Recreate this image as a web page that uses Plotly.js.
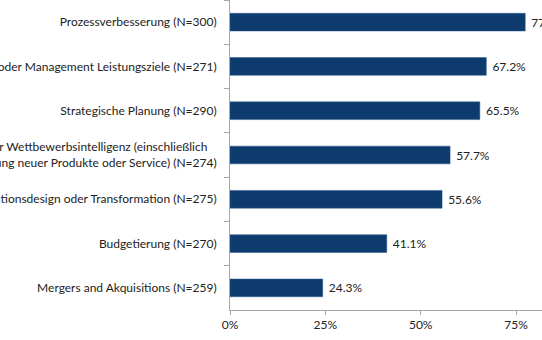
<!DOCTYPE html>
<html>
<head>
<meta charset="utf-8">
<script src="https://cdn.plot.ly/plotly-3.0.1.min.js"></script>
<style>html,body{margin:0;padding:0;background:#fff;}#chart{width:542px;height:340px;}</style>
</head>
<body>
<div id="chart"></div>
<script>
var categories = [
  "Prozessverbesserung (N=300)",
  "Unternehmens- und/oder Management Leistungsziele (N=271)",
  "Strategische Planung (N=290)",
  "Marktforschung oder Wettbewerbsintelligenz (einschließlich\u00a0\u00a0\u00a0<br>Entwicklung neuer Produkte oder Service) (N=274)",
  "Organisationsdesign oder Transformation (N=275)",
  "Budgetierung (N=270)",
  "Mergers and Akquisitions (N=259)"
];
var values = [77.4, 67.2, 65.5, 57.7, 55.6, 41.1, 24.3];
var xTickVals = [0, 25, 50, 75];
var xTickText = ["0%", "25%", "50%", "75%"];

var labels = values.map(function(v){ return "\u00a0" + v.toFixed(1) + "%"; });

var trace = {
  type: "bar",
  orientation: "h",
  x: values,
  y: categories,
  text: labels,
  textposition: "outside",
  constraintext: "none",
  cliponaxis: false,
  textfont: {family: "Lato, 'Open Sans', sans-serif", size: 12, color: "#222"},
  marker: {color: "#0d3b6e", line: {color: "#2a5a8c", width: 0.5}},
  width: 0.4,
  hoverinfo: "none"
};

var layout = {
  width: 542, height: 340,
  margin: {l: 230, r: 0, t: 0, b: 30, pad: 0},
  paper_bgcolor: "#fff", plot_bgcolor: "#fff",
  showlegend: false,
  font: {family: "Lato, 'Open Sans', sans-serif", size: 12, color: "#222"},
  xaxis: {
    range: [0, 81.8],
    tickvals: xTickVals, ticktext: xTickText,
    showgrid: false, zeroline: false,
    showline: true, linecolor: "#a6a6a6", linewidth: 1,
    ticks: "outside", ticklen: 4, tickcolor: "#a6a6a6",
    tickfont: {size: 12, color: "#222"},
    fixedrange: true
  },
  yaxis: {
    type: "category",
    autorange: "reversed",
    categoryorder: "array", categoryarray: categories,
    automargin: false,
    showgrid: false, zeroline: false,
    showline: true, linecolor: "#a6a6a6", linewidth: 1,
    ticks: "outside", ticklen: 5, tickcolor: "#a6a6a6",
    tickson: "boundaries",
    ticklabelstandoff: 10,
    tickfont: {size: 12, color: "#222"},
    fixedrange: true
  }
};

Plotly.newPlot("chart", [trace], layout, {staticPlot: true, displayModeBar: false});
</script>
</body>
</html>
